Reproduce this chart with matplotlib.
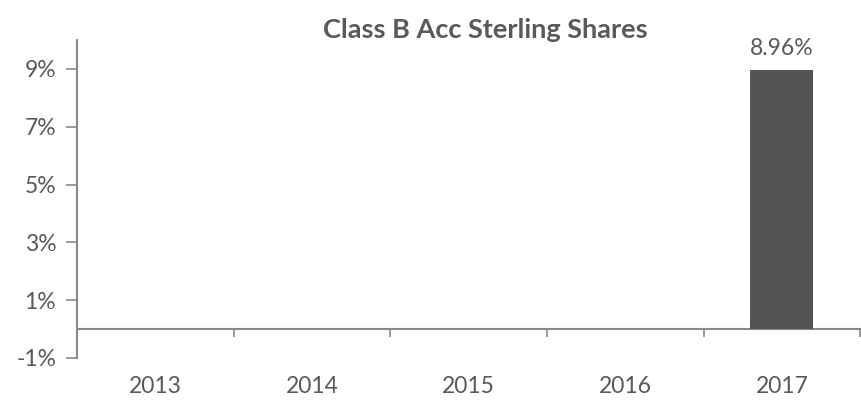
import matplotlib.pyplot as plt
import numpy as np

years = ['2013', '2014', '2015', '2016', '2017']
returns = [np.nan, np.nan, np.nan, np.nan, 8.96]
yticks = [-1, 1, 3, 5, 7, 9]

grey_text = '#595959'
grey_axis = '#898989'
bar_col = '#545454'

plt.rcParams['font.family'] = ['Lato', 'DejaVu Sans']

fig = plt.figure(figsize=(8.61, 4.03), dpi=100)
ax = fig.add_axes([77/861, 1 - 358/403, 1 - 77/861 - 0.001, (358 - 40)/403])

x = np.arange(len(years))
vals = np.array(returns, dtype=float)
bars = ax.bar(x, np.nan_to_num(vals), width=0.4, color=bar_col, zorder=3)
for xi, v in zip(x, vals):
    if not np.isnan(v):
        ax.text(xi, v + 0.4, '{:.2f}%'.format(v), ha='center', va='bottom',
                fontsize=16.5, color=grey_text)

ax.set_xlim(-0.5, len(years) - 0.5)
ax.set_ylim(-1, 10)

# y axis
ax.set_yticks(yticks)
ax.set_yticklabels(['{}%'.format(t) for t in yticks])
ax.tick_params(axis='y', length=8, width=1.2, color=grey_axis, labelsize=16.5,
               labelcolor=grey_text, pad=7)

# x axis sits at zero, labels down at the bottom
ax.spines['bottom'].set_position(('data', 0))
ax.set_xticks(x)
ax.set_xticklabels(years)
ax.set_xticks(np.arange(0.5, len(years)), minor=True)
ax.tick_params(axis='x', which='major', length=0, labelsize=16.5,
               labelcolor=grey_text, pad=34)
ax.tick_params(axis='x', which='minor', length=6, width=1.2, color=grey_axis)

for s in ['top', 'right']:
    ax.spines[s].set_visible(False)
for s in ['left', 'bottom']:
    ax.spines[s].set_color(grey_axis)
    ax.spines[s].set_linewidth(1.5)

fig.text(485/861, 1 - 30/403, 'Class B Acc Sterling Shares', ha='center', va='center',
         fontsize=19.5, fontweight='bold', color=grey_text)

fig.savefig('out.png', dpi=100)
